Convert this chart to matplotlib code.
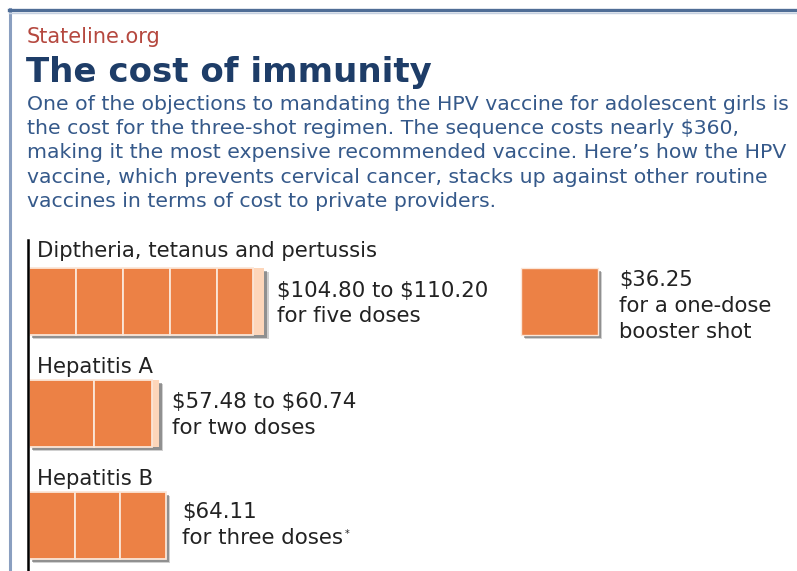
import matplotlib.pyplot as plt
from matplotlib import patheffects as pe
from matplotlib.lines import Line2D

plt.rcParams['font.family'] = ['DejaVu Sans']
plt.rcParams['text.parse_math'] = False

# vaccine data: cost range (low, high) and number of doses
vaccines = ['Diptheria, tetanus and pertussis', 'Hepatitis A', 'Hepatitis B']
cost_low = [104.80, 57.48, 64.11]
cost_high = [110.20, 60.74, 64.11]
doses = [5, 2, 3]
value_lines = [['$104.80 to $110.20', 'for five doses'],
               ['$57.48 to $60.74', 'for two doses'],
               ['$64.11', 'for three doses']]
booster_cost = 36.25
booster_lines = ['$36.25', 'for a one-dose', 'booster shot']

body = ['One of the objections to mandating the HPV vaccine for adolescent girls is',
        'the cost for the three-shot regimen. The sequence costs nearly $360,',
        'making it the most expensive recommended vaccine. Here\u2019s how the HPV',
        'vaccine, which prevents cervical cancer, stacks up against other routine',
        'vaccines in terms of cost to private providers.']

W, H = 797, 571
ORANGE = '#ec8145'
LIGHT = '#fdd6ba'
shadow = [pe.SimplePatchShadow(offset=(3.2, -3.2), shadow_rgbFace='#666666', alpha=0.3),
          pe.SimplePatchShadow(offset=(2.2, -2.2), shadow_rgbFace='#444444', alpha=0.45),
          pe.Normal()]


def fx(x):
    return x / W


def fy(y):
    return 1 - y / H


fig = plt.figure(figsize=(W / 100, H / 100), dpi=100)
fig.patch.set_facecolor('white')

# frame lines
fig.add_artist(Line2D([fx(10), fx(10)], [fy(9), 0], color='#8a9fc0', lw=2.2))
fig.add_artist(Line2D([fx(9), 1], [fy(10), fy(10)], color='#4f6d96', lw=2.4))
fig.add_artist(Line2D([fx(9), 1], [fy(12.5), fy(12.5)], color='#c5d0e0', lw=1.0))
fig.add_artist(Line2D([fx(28), fx(28)], [fy(240), 0], color='black', lw=1.8))

# header text
fig.text(fx(27), fy(43), 'Stateline.org', color='#b5483f', fontsize=15, va='baseline')
fig.text(fx(26), fy(82), 'The cost of immunity', color='#1e3d68', fontsize=24.5,
         fontweight='bold', va='baseline')
for i, line in enumerate(body):
    fig.text(fx(27), fy(110 + i * 24.2), line, color='#35598a', fontsize=14.7, va='baseline')

# bars: x in dollars, y in pixel rows
ax = fig.add_axes([fx(29), 0, 1 - fx(29), 1])
ax.set_xlim(0, 360)
ax.set_ylim(H, 0)
ax.axis('off')

bar_y = [301.5, 413.5, 525]
bar_h = 67
for yc, lo, hi, n in zip(bar_y, cost_low, cost_high, doses):
    back = ax.barh(yc, hi, height=bar_h, color=LIGHT, edgecolor='none')
    back[0].set_path_effects(shadow)
    seg = hi / n
    for k in range(n):
        start = k * seg
        end = min(start + seg, lo)
        if end > start:
            ax.barh(yc, end - start, left=start, height=bar_h, color=ORANGE,
                    edgecolor='#fbe6d8', linewidth=1.3)

b = ax.barh(bar_y[0], booster_cost, left=230.4, height=bar_h, color=ORANGE,
            edgecolor='#fbe6d8', linewidth=1.0)
b[0].set_path_effects(shadow)

# labels
name_base = [257, 373, 485]
for name, yb in zip(vaccines, name_base):
    fig.text(fx(37), fy(yb), name, color='#222222', fontsize=15.2, va='baseline')

val_pos = [(277, 297), (172, 408), (182, 518)]
last = None
for lines, (x, yb) in zip(value_lines, val_pos):
    for j, t in enumerate(lines):
        last = fig.text(fx(x), fy(yb + j * 25.5), t, color='#222222', fontsize=15.4,
                        va='baseline')

# small footnote mark after "for three doses"
fig.canvas.draw()
bb = last.get_window_extent()
fig.text(bb.x1 / W + fx(1.5), fy(537), '*', color='#222222', fontsize=7, va='baseline')

for j, t in enumerate(booster_lines):
    fig.text(fx(619), fy(286 + j * 26), t, color='#222222', fontsize=15.2, va='baseline')

fig.savefig('out.png', dpi=100, facecolor='white')
